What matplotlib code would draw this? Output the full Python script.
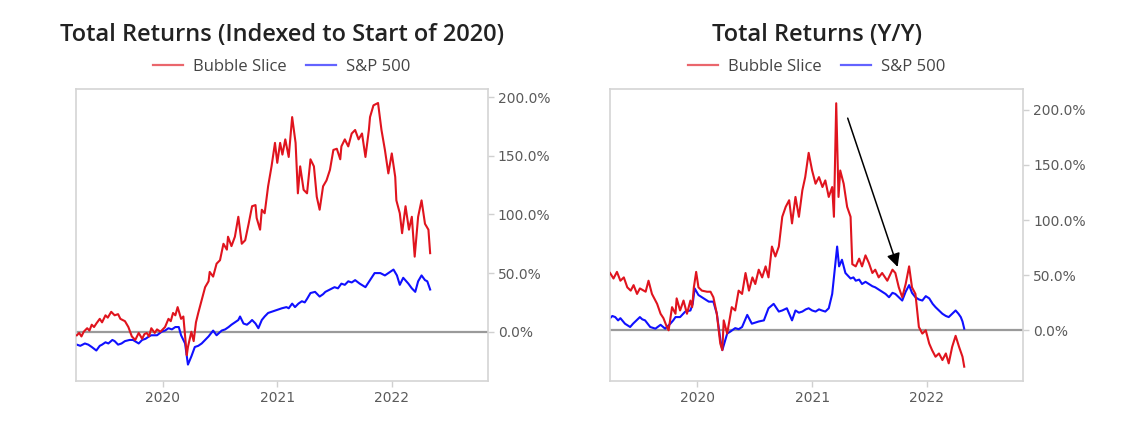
import matplotlib
matplotlib.use("Agg")
import matplotlib.pyplot as plt
from matplotlib.lines import Line2D
from matplotlib.ticker import FuncFormatter

# Total returns indexed to the start of 2020 (%), x in decimal years
idx_bubble_years = [
    2019.25, 2019.27, 2019.29, 2019.31, 2019.34, 2019.36, 2019.38, 2019.40, 2019.42, 2019.45,
    2019.47, 2019.50, 2019.52, 2019.55, 2019.58, 2019.61, 2019.63, 2019.67, 2019.70, 2019.73,
    2019.76, 2019.79, 2019.82, 2019.84, 2019.86, 2019.88, 2019.90, 2019.93, 2019.95, 2019.98,
    2020.02, 2020.05, 2020.07, 2020.09, 2020.11, 2020.13, 2020.16, 2020.18, 2020.21, 2020.22,
    2020.25, 2020.27, 2020.29, 2020.31, 2020.34, 2020.37, 2020.40, 2020.41, 2020.44, 2020.47,
    2020.50, 2020.53, 2020.56, 2020.57, 2020.60, 2020.63, 2020.66, 2020.69, 2020.72, 2020.75,
    2020.78, 2020.81, 2020.82, 2020.85, 2020.865, 2020.89, 2020.92, 2020.95, 2020.98, 2021.00,
    2021.025, 2021.045, 2021.07, 2021.10, 2021.13, 2021.16, 2021.18, 2021.20, 2021.23, 2021.26,
    2021.29, 2021.32, 2021.345, 2021.37, 2021.40, 2021.43, 2021.46, 2021.49, 2021.52, 2021.55,
    2021.56, 2021.59, 2021.62, 2021.65, 2021.68, 2021.71, 2021.74, 2021.77, 2021.80, 2021.81,
    2021.84, 2021.88, 2021.91, 2021.94, 2021.97, 2022.00, 2022.03, 2022.04, 2022.07, 2022.09,
    2022.12, 2022.15, 2022.175, 2022.20, 2022.23, 2022.26, 2022.29, 2022.32, 2022.335,
]
idx_bubble = [
    -3, -1, -4, 0, 3, 1, 6, 4, 7, 11,
    8, 14, 12, 17, 14, 15, 11, 9, 4, -4,
    -7, -1, -6, -2, -1, -4, 3, -1, 2, 0,
    4, 11, 9, 16, 14, 21, 11, 13, -20, -13,
    0, -8, 8, 16, 27, 38, 43, 51, 47, 58,
    61, 75, 70, 81, 73, 81, 98, 75, 78, 92,
    107, 108, 97, 87, 104, 101, 124, 141, 161, 144,
    161, 151, 164, 149, 183, 161, 118, 141, 121, 118,
    147, 141, 115, 104, 124, 129, 138, 155, 156, 147,
    158, 164, 158, 169, 172, 164, 169, 149, 172, 183,
    193, 195, 172, 155, 135, 152, 132, 112, 101, 84,
    107, 87, 98, 64, 98, 112, 92, 87, 67,
]
idx_spx_years = [
    2019.25, 2019.28, 2019.32, 2019.35, 2019.38, 2019.42, 2019.45, 2019.47, 2019.50, 2019.525,
    2019.56, 2019.58, 2019.61, 2019.64, 2019.67, 2019.71, 2019.74, 2019.79, 2019.82, 2019.85,
    2019.88, 2019.90, 2019.95, 2019.99, 2020.02, 2020.05, 2020.08, 2020.11, 2020.14, 2020.16,
    2020.195, 2020.22, 2020.25, 2020.28, 2020.31, 2020.34, 2020.37, 2020.40, 2020.44, 2020.47,
    2020.515, 2020.545, 2020.575, 2020.60, 2020.63, 2020.66, 2020.675, 2020.705, 2020.735, 2020.76,
    2020.78, 2020.81, 2020.835, 2020.865, 2020.89, 2020.92, 2020.95, 2020.98, 2021.01, 2021.04,
    2021.08, 2021.10, 2021.13, 2021.155, 2021.185, 2021.215, 2021.24, 2021.26, 2021.29, 2021.33,
    2021.37, 2021.40, 2021.42, 2021.46, 2021.50, 2021.53, 2021.56, 2021.59, 2021.62, 2021.65,
    2021.68, 2021.72, 2021.77, 2021.81, 2021.85, 2021.90, 2021.94, 2021.985, 2022.015, 2022.045,
    2022.07, 2022.10, 2022.145, 2022.175, 2022.205, 2022.23, 2022.26, 2022.29, 2022.31, 2022.335,
]
idx_spx = [
    -11, -12, -10, -11, -13, -16, -12, -11, -9, -10,
    -7, -8, -11, -10, -8, -7, -7, -10, -7, -6,
    -4, -3, -3, 0, 1, 3, 2, 4, 4, -3,
    -10, -28, -21, -13, -12, -10, -7, -4, 1, -3,
    1, 2, 4, 6, 8, 10, 13, 7, 6, 8,
    10, 7, 3, 10, 13, 16, 17, 18, 19, 20,
    21, 20, 24, 21, 24, 26, 25, 28, 33, 34,
    30, 32, 34, 36, 38, 37, 41, 40, 43, 42,
    44, 41, 38, 44, 50, 50, 48, 51, 53, 48,
    40, 46, 41, 37, 34, 43, 48, 44, 43, 36,
]

# Year-over-year total returns (%)
yoy_bubble_years = [
    2019.24, 2019.27, 2019.30, 2019.33, 2019.36, 2019.39, 2019.42, 2019.445, 2019.475, 2019.50,
    2019.55, 2019.575, 2019.605, 2019.65, 2019.68, 2019.705, 2019.735, 2019.75, 2019.78, 2019.81,
    2019.82, 2019.85, 2019.88, 2019.91, 2019.94, 2019.955, 2019.97, 2019.99, 2020.01, 2020.04,
    2020.085, 2020.115, 2020.14, 2020.17, 2020.20, 2020.218, 2020.23, 2020.26, 2020.275, 2020.30,
    2020.33, 2020.36, 2020.39, 2020.42, 2020.45, 2020.48, 2020.505, 2020.535, 2020.565, 2020.595,
    2020.62, 2020.65, 2020.68, 2020.71, 2020.74, 2020.77, 2020.80, 2020.825, 2020.855, 2020.885,
    2020.915, 2020.94, 2020.97, 2021.00, 2021.03, 2021.06, 2021.09, 2021.115, 2021.145, 2021.175,
    2021.19, 2021.21, 2021.23, 2021.245, 2021.275, 2021.305, 2021.335, 2021.35, 2021.38, 2021.41,
    2021.435, 2021.465, 2021.495, 2021.525, 2021.55, 2021.58, 2021.61, 2021.655, 2021.70, 2021.725,
    2021.755, 2021.785, 2021.815, 2021.845, 2021.87, 2021.90, 2021.93, 2021.96, 2021.99, 2022.02,
    2022.045, 2022.075, 2022.105, 2022.135, 2022.165, 2022.19, 2022.22, 2022.25, 2022.28, 2022.31,
    2022.325,
]
yoy_bubble = [
    52, 47, 53, 45, 48, 39, 36, 41, 33, 38,
    35, 45, 33, 24, 15, 11, 3, 0, 21, 15,
    29, 18, 27, 15, 27, 21, 39, 53, 39, 36,
    35, 35, 30, 15, -12, -18, 9, -3, 6, 21,
    18, 36, 33, 52, 36, 48, 42, 55, 48, 58,
    48, 76, 67, 76, 103, 112, 118, 97, 121, 103,
    127, 139, 161, 145, 133, 139, 130, 136, 121, 130,
    103, 206, 121, 145, 133, 112, 103, 60, 58, 65,
    58, 68, 61, 52, 55, 48, 52, 45, 55, 52,
    39, 30, 42, 58, 39, 33, 3, -3, 0, -12,
    -18, -24, -21, -27, -21, -30, -15, -5, -15, -24,
    -33,
]
yoy_spx_years = [
    2019.24, 2019.26, 2019.285, 2019.31, 2019.33, 2019.37, 2019.415, 2019.44, 2019.46, 2019.50,
    2019.52, 2019.545, 2019.59, 2019.635, 2019.68, 2019.72, 2019.765, 2019.79, 2019.81, 2019.85,
    2019.895, 2019.94, 2019.96, 2019.977, 2020.01, 2020.055, 2020.10, 2020.14, 2020.17, 2020.20,
    2020.218, 2020.26, 2020.29, 2020.33, 2020.36, 2020.39, 2020.435, 2020.475, 2020.535, 2020.58,
    2020.62, 2020.665, 2020.71, 2020.74, 2020.78, 2020.825, 2020.855, 2020.885, 2020.915, 2020.945,
    2020.97, 2021.00, 2021.03, 2021.06, 2021.085, 2021.115, 2021.145, 2021.175, 2021.20, 2021.218,
    2021.235, 2021.26, 2021.29, 2021.335, 2021.36, 2021.38, 2021.41, 2021.435, 2021.465, 2021.495,
    2021.525, 2021.55, 2021.58, 2021.61, 2021.64, 2021.67, 2021.70, 2021.725, 2021.755, 2021.785,
    2021.815, 2021.845, 2021.87, 2021.90, 2021.93, 2021.96, 2021.99, 2022.02, 2022.05, 2022.075,
    2022.105, 2022.135, 2022.165, 2022.19, 2022.22, 2022.25, 2022.275, 2022.295, 2022.31, 2022.325,
]
yoy_spx = [
    11, 13, 12, 9, 11, 6, 3, 6, 8, 12,
    10, 9, 3, 1.5, 5, 1.5, 6, 9, 12, 12,
    17, 18, 24, 38, 32, 29, 26, 26, 15, -8,
    -18, -3, -1, 2, 1, 3, 14, 6, 8, 9,
    20, 24, 17, 18, 20, 9, 18, 16, 17, 19,
    20, 18, 17, 19, 18, 17, 20, 33, 58, 76,
    58, 64, 52, 47, 48, 45, 46, 42, 44, 42,
    40, 39, 37, 35, 33, 30, 34, 33, 30, 27,
    35, 41, 34, 30, 28, 27, 31, 29, 24, 21,
    18, 15, 13, 12, 15, 18, 15, 12, 8, 1.5,
]

year_ticks = [2020, 2021, 2022]
pct_ticks = [0, 50, 100, 150, 200]

RED = "#e0141e"
BLUE = "#1010ff"

fig = plt.figure(figsize=(11.42, 4.34), dpi=100)
ax1 = fig.add_axes([0.0663, 0.1221, 0.3610, 0.6730])
ax2 = fig.add_axes([0.5342, 0.1221, 0.3619, 0.6730])


def style_axis(ax, ylim):
    ax.axhline(0, color="#9a9a9a", lw=1.6, zorder=1)
    ax.set_xlim(2019.24, 2022.84)
    ax.set_ylim(*ylim)
    ax.set_xticks(year_ticks)
    ax.set_xticklabels([str(y) for y in year_ticks])
    ax.set_yticks(pct_ticks)
    ax.yaxis.set_major_formatter(FuncFormatter(lambda v, p: f"{v:.1f}%"))
    ax.yaxis.tick_right()
    for s in ax.spines.values():
        s.set_color("#d4d4d4")
        s.set_linewidth(1.2)
    ax.tick_params(axis="both", colors="#d0d0d0", labelcolor="#5a5a5a",
                   labelsize=10, length=4, width=1, pad=3)


ax1.plot(idx_bubble_years, idx_bubble, color=RED, lw=1.5, zorder=3)
ax1.plot(idx_spx_years, idx_spx, color=BLUE, lw=1.5, zorder=2)
style_axis(ax1, (-42, 207))

ax2.plot(yoy_bubble_years, yoy_bubble, color=RED, lw=1.5, zorder=3)
ax2.plot(yoy_spx_years, yoy_spx, color=BLUE, lw=1.5, zorder=2)
style_axis(ax2, (-46, 219))

# arrow pointing at the drop after the 2021 spike
ax2.annotate("", xy=(2021.745, 57.5), xytext=(2021.31, 192.5),
             arrowprops=dict(arrowstyle="-|>", color="black", lw=1.1,
                             mutation_scale=20, shrinkA=0, shrinkB=0),
             zorder=5)

titles = ["Total Returns (Indexed to Start of 2020)", "Total Returns (Y/Y)"]
handles = [
    Line2D([], [], color=RED, lw=1.6, alpha=0.65),
    Line2D([], [], color=BLUE, lw=1.6, alpha=0.65),
]
for ax, title in zip([ax1, ax2], titles):
    pos = ax.get_position()
    cx = (pos.x0 + pos.x1) / 2
    fig.text(cx, 0.919, title, ha="center", va="center", fontsize=17,
             fontweight="semibold", family="Open Sans", color="#222222")
    fig.legend(handles, ["Bubble Slice", "S&P 500"], loc="center",
               bbox_to_anchor=(cx, 0.846), ncol=2, frameon=False,
               handlelength=1.8, handletextpad=0.6, columnspacing=1.2,
               prop={"family": "Open Sans", "size": 12}, labelcolor="#444444")

fig.savefig("out.png", dpi=100, facecolor="white")
